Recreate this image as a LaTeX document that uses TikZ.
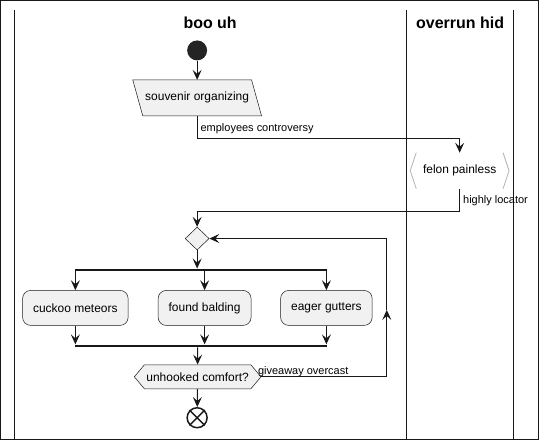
\documentclass[tikz,border=0pt]{standalone}
\usepackage{fontspec}
\setmainfont{Liberation Sans}
\usetikzlibrary{shapes,arrows.meta}

\definecolor{actfill}{HTML}{F1F1F1}
\definecolor{ink}{HTML}{181818}
\pgfdeclarelayer{background}
\pgfsetlayers{background,main}

\begin{document}
\begin{tikzpicture}[
  x=1pt, y=-1pt,
  >={Stealth[length=10pt,width=9pt,inset=4pt]},
  every path/.style={line width=1pt, draw=ink},
  lane/.style={line width=1.5pt},
  lanetitle/.style={font=\fontsize{16}{18}\selectfont\bfseries},
  edgelabel/.style={font=\fontsize{11}{13}\selectfont, inner sep=0pt, anchor=west},
  shapeline/.style={draw=ink, line width=0.5pt, fill=actfill,
    font=\fontsize{12}{14}\selectfont},
  action/.style={shapeline, rectangle, rounded corners=8pt,
    minimum height=35pt, inner xsep=10.5pt},
  plainbox/.style={font=\fontsize{12}{14}\selectfont, minimum width=98pt,
    minimum height=35pt, inner sep=0pt},
  choice/.style={shapeline, diamond, minimum width=24pt, minimum height=23pt,
    inner sep=0pt},
  testbox/.style={shapeline, signal, signal to=west and east,
    signal pointer angle=100, minimum width=119pt, minimum height=24pt,
    inner xsep=2pt, inner ysep=0pt},
  syncbar/.style={fill=ink, draw=none, minimum height=2pt, inner sep=0pt},
  startdot/.style={circle, fill=ink!95, draw=none, minimum size=20pt, inner sep=0pt},
  stopdot/.style={circle, draw=ink, line width=1.5pt, fill=white,
    minimum size=20pt, inner sep=0pt}
  ]
  \useasboundingbox (0,0) rectangle (539,440);

  % swimlanes
  \draw[lane] (14,10) -- (14,440);
  \draw[lane] (406.5,10) -- (406.5,440);
  \draw[lane] (514,10) -- (514,440);
  \node[lanetitle] (booh) at (210,22) {boo uh};
  \node[lanetitle] (overh) at (460.5,22) {overrun hid};

  \node[startdot] (start) at (197,50) {};
  \node[plainbox, minimum width=118pt] (souvenir) at (197,97.5) {souvenir organizing};
  \begin{pgfonlayer}{background}
    \filldraw[shapeline] ([xshift=-5pt]souvenir.north west) -- ([xshift=-5pt]souvenir.north east)
      -- ([xshift=5pt]souvenir.south east) -- ([xshift=5pt]souvenir.south west) -- cycle;
  \end{pgfonlayer}
  \node[plainbox] (felon) at (460,170.5) {felon painless};
  \draw[black!30, line width=0.8pt] ([xshift=6pt]felon.north west) -- (felon.west) -- ([xshift=6pt]felon.south west);
  \draw[black!30, line width=0.8pt] ([xshift=-6pt]felon.north east) -- (felon.east) -- ([xshift=-6pt]felon.south east);
  \node[choice] (merge) at (197,238.5) {};
  \node[syncbar, minimum width=252pt] (fork) at (201,270) {};
  \node[action] (cuckoo) at (75,308) {cuckoo meteors};
  \node[action] (balding) at (204.5,308) {found balding};
  \node[action] (gutters) at (326.5,308) {eager gutters};
  \node[syncbar, minimum width=252pt] (join) at (201,346) {};
  \node[testbox] (ask) at (197.5,377) {unhooked comfort?};
  \node[stopdot] (stop) at (197,418) {};
  \draw[line width=1.5pt] (stop.north east) -- (stop.south west) (stop.north west) -- (stop.south east);

  \coordinate (loopbot) at (387,377);
  \coordinate (loopmid) at (387,310);
  \coordinate (looptop) at (387,238.5);

  \draw[->] (start) -- (souvenir);
  \draw[->] (souvenir.south) -- ++(0,23) -| (felon.north);
  \node[edgelabel] (lblemp) at (200,128) {employees controversy};
  \draw[->] (felon.south) -- ++(0,23) -| (merge.north);
  \node[edgelabel] (lblloc) at (463,200.5) {highly locator};
  \draw[->] (merge.south) -- (merge.south |- fork.north);
  \draw[->] (fork.south -| cuckoo) -- (cuckoo);
  \draw[->] (fork.south -| balding) -- (balding);
  \draw[->] (fork.south -| gutters) -- (gutters);
  \draw[->] (cuckoo) -- (cuckoo |- join.north);
  \draw[->] (balding) -- (balding |- join.north);
  \draw[->] (gutters) -- (gutters |- join.north);
  \draw[->] (join.south -| ask) -- (ask);
  \draw[->] (ask.east) -- (loopbot) -- (loopmid);
  \draw[->] (loopmid) -- (looptop) -- (merge.east);
  \node[edgelabel] (lblgive) at (257.5,371.5) {giveaway overcast};
  \draw[->] (ask) -- (stop);
\end{tikzpicture}
\end{document}
